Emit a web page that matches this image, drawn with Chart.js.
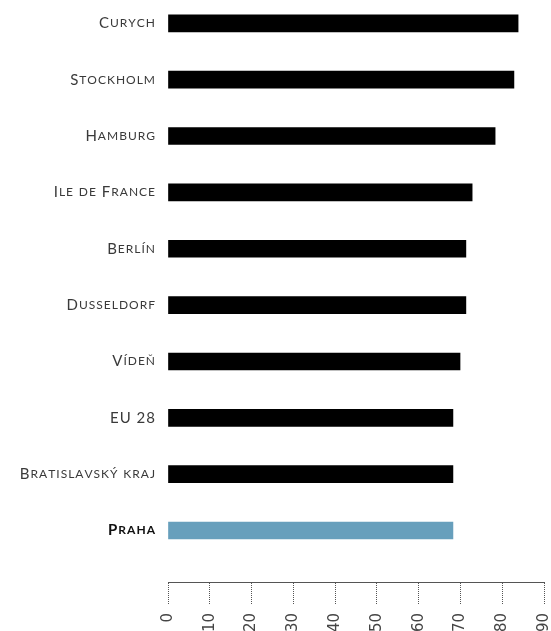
<!DOCTYPE html>
<html>
<head>
<meta charset="utf-8">
<script src="https://cdn.jsdelivr.net/npm/chart.js@4.4.1/dist/chart.umd.min.js"></script>
<style>
  body { margin: 0; background: #fff; }
  .wrap { position: relative; width: 551px; height: 631px; }
</style>
</head>
<body>
<div class="wrap"><canvas id="chart"></canvas></div>
<script>
const cities = [
  'Curych', 'Stockholm', 'Hamburg', 'Ile de France', 'Berlín',
  'Dusseldorf', 'Vídeň', 'EU 28', 'Bratislavský kraj', 'Praha'
];
const values = [83.8, 82.8, 78.3, 72.8, 71.3, 71.3, 69.9, 68.2, 68.2, 68.2];
const highlight = 'Praha';
const xTicks = [0, 10, 20, 30, 40, 50, 60, 70, 80, 90];

const barColors = cities.map(c => c === highlight ? '#679fbc' : '#000000');
const isHighlight = c => c.tick ? cities[c.tick.value] === highlight : false;

const ctx = document.getElementById('chart').getContext('2d');

// city labels are set in small caps (lowercase drawn as smaller capitals)
const baseFill = ctx.fillText;
const smallRatio = 0.8;
const tracking = 1;
ctx.fillText = function (text, x, y, maxWidth) {
  if (this.font.indexOf('Lato') === -1) {
    return maxWidth === undefined
      ? baseFill.call(this, text, x, y)
      : baseFill.call(this, text, x, y, maxWidth);
  }
  const font = this.font;
  const size = parseFloat(font.match(/([\d.]+)px/)[1]);
  const smallFont = font.replace(/[\d.]+px/, (size * smallRatio) + 'px');
  const chars = String(text).split('').map(ch => {
    const lower = ch !== ch.toUpperCase();
    this.font = lower ? smallFont : font;
    const s = lower ? ch.toUpperCase() : ch;
    return { s, f: this.font, w: this.measureText(s).width };
  });
  const total = chars.reduce((a, c) => a + c.w, 0) + tracking * (chars.length - 1);
  const align = this.textAlign;
  let cx = align === 'right' || align === 'end' ? x - total
    : align === 'center' ? x - total / 2 : x;
  this.textAlign = 'left';
  chars.forEach(c => {
    this.font = c.f;
    baseFill.call(this, c.s, cx, y);
    cx += c.w + tracking;
  });
  this.font = font;
  this.textAlign = align;
};

new Chart(ctx, {
  type: 'bar',
  data: {
    datasets: [{
      data: values.map((v, i) => ({ x: v, y: i })),
      backgroundColor: barColors,
      barThickness: 17
    }]
  },
  options: {
    indexAxis: 'y',
    responsive: true,
    maintainAspectRatio: false,
    animation: false,
    layout: { padding: 0 },
    plugins: {
      legend: { display: false },
      tooltip: { enabled: false }
    },
    scales: {
      y: {
        type: 'linear',
        bounds: 'data',
        offset: false,
        reverse: true,
        min: -0.4134,
        max: 9.913,
        grid: { display: false, drawTicks: false, offset: false },
        border: { display: false },
        afterBuildTicks: s => { s.ticks = cities.map((c, i) => ({ value: i })); },
        afterFit: s => {
          s.width = 168;
          s.paddingTop = 0;
          s.paddingBottom = 0;
        },
        ticks: {
          autoSkip: false,
          padding: 13,
          callback: v => cities[v],
          color: c => isHighlight(c) ? '#111' : '#3a3a3a',
          font: c => ({
            family: 'Lato',
            size: 15,
            weight: isHighlight(c) ? 'bold' : 'normal'
          })
        }
      },
      x: {
        position: 'bottom',
        bounds: 'data',
        min: 0,
        max: 90,
        afterBuildTicks: s => { s.ticks = xTicks.map(v => ({ value: v })); },
        afterFit: s => {
          s.height = 49;
          s.paddingLeft = 0;
          s.paddingRight = 7;
        },
        grid: {
          drawOnChartArea: false,
          drawTicks: true,
          tickLength: 23,
          tickColor: '#555',
          tickWidth: 1,
          tickBorderDash: [1, 1]
        },
        border: { display: true, color: '#555', width: 1, dash: [1, 1] },
        ticks: {
          autoSkip: false,
          maxRotation: 90,
          minRotation: 90,
          padding: 8,
          color: '#444',
          font: { family: 'DejaVu Sans', size: 15 }
        }
      }
    }
  }
});
</script>
</body>
</html>
